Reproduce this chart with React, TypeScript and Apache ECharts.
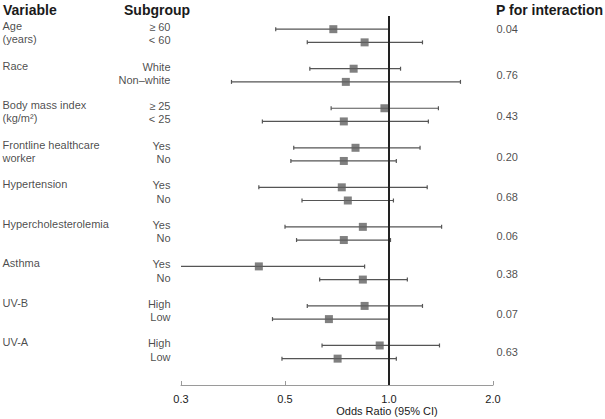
import React, { useEffect, useRef } from "react";
import * as echarts from "echarts";

const variables = [
  "Age\n(years)",
  "Race",
  "Body mass index\n(kg/m²)",
  "Frontline healthcare\nworker",
  "Hypertension",
  "Hypercholesterolemia",
  "Asthma",
  "UV-B",
  "UV-A",
];
const subgroups = [
  ["≥ 60", "< 60"],
  ["White", "Non–white"],
  ["≥ 25", "< 25"],
  ["Yes", "No"],
  ["Yes", "No"],
  ["Yes", "No"],
  ["Yes", "No"],
  ["High", "Low"],
  ["High", "Low"],
];
const oddsRatio = [
  [0.69, 0.85], [0.79, 0.75], [0.97, 0.74], [0.8, 0.74], [0.73, 0.76],
  [0.84, 0.74], [0.42, 0.84], [0.85, 0.67], [0.94, 0.71],
];
const ciLower = [
  [0.47, 0.58], [0.59, 0.35], [0.68, 0.43], [0.53, 0.52], [0.42, 0.56],
  [0.5, 0.54], [0.24, 0.63], [0.58, 0.46], [0.64, 0.49],
];
const ciUpper = [
  [1.0, 1.25], [1.08, 1.61], [1.39, 1.3], [1.23, 1.05], [1.29, 1.03],
  [1.42, 1.01], [0.85, 1.13], [1.25, 1.0], [1.4, 1.05],
];
const pInteraction = ["0.04", "0.76", "0.43", "0.20", "0.68", "0.06", "0.38", "0.07", "0.63"];
const xTicks = [0.25, 0.5, 1, 2];
const xTickLabels = ["0.3", "0.5", "1.0", "2.0"];

// layout (row units): p-value text rows
const pRowY = [0, 3.46, 6.6, 9.7, 12.77, 15.67, 18.6, 21.6, 24.47];

const FONT = "'Liberation Sans', Arial, Helvetica, sans-serif";

export default function App() {
  const ref = useRef<HTMLDivElement>(null);
  useEffect(() => {
    const chart = echarts.init(ref.current!, null, { renderer: "svg" });
    const rowOf = (g: number, k: number) => g * 3 + k;

    const ciData: any[] = [];
    const pointData: any[] = [];
    const subData: any[] = [];
    const varData: any[] = [];
    const pData: any[] = [];
    variables.forEach((v, g) => {
      for (let k = 0; k < 2; k++) {
        const y = rowOf(g, k);
        ciData.push([ciLower[g][k], ciUpper[g][k], y]);
        pointData.push([oddsRatio[g][k], y]);
        subData.push({ value: [0.25, y], label: { formatter: subgroups[g][k] } });
      }
      varData.push({ value: [0.25, rowOf(g, 0)], label: { formatter: v } });
      pData.push({ value: [2, pRowY[g]], label: { formatter: pInteraction[g] } });
    });

    const textColor = "#1a1a1a";

    chart.setOption({
      animation: false,
      textStyle: { fontFamily: FONT },
      grid: { left: 181, right: 112, top: 16, bottom: 34, containLabel: false },
      xAxis: {
        type: "log",
        logBase: 2,
        min: 0.25,
        max: 2,
        interval: 1,
        position: "bottom",
        axisLine: { show: true, onZero: false, lineStyle: { color: "#9a9a9a", width: 1 } },
        axisTick: { show: true, inside: true, length: 4, lineStyle: { color: "#9a9a9a" } },
        splitLine: { show: false },
        minorTick: { show: false },
        axisLabel: {
          fontSize: 11,
          color: textColor,
          margin: 8,
          fontFamily: FONT,
          formatter: (val: number) => {
            const i = xTicks.findIndex((t) => Math.abs(t - val) < 1e-6);
            return i >= 0 ? xTickLabels[i] : "";
          },
        },
      },
      yAxis: {
        type: "value",
        inverse: true,
        min: -1,
        max: 27,
        show: false,
      },
      graphic: [
        { type: "text", left: 3, top: 3, style: { text: "Variable", font: `bold 14px ${FONT}`, fill: textColor } },
        { type: "text", left: 124, top: 3, style: { text: "Subgroup", font: `bold 14px ${FONT}`, fill: textColor } },
        { type: "text", left: 496, top: 3, style: { text: "P for interaction", font: `bold 14px ${FONT}`, fill: textColor } },
        {
          type: "text",
          x: 387,
          y: 405,
          style: { text: "Odds Ratio (95% CI)", font: `11px ${FONT}`, fill: textColor, textAlign: "center" },
        },
      ],
      series: [
        {
          type: "custom",
          clip: true,
          data: ciData,
          encode: { x: [0, 1], y: 2 },
          renderItem: (params: any, api: any) => {
            const y = api.value(2);
            const p1 = api.coord([api.value(0), y]);
            const p2 = api.coord([api.value(1), y]);
            const style = { stroke: "#555", lineWidth: 1.2 };
            const h = 2;
            return {
              type: "group",
              children: [
                { type: "line", shape: { x1: p1[0], y1: p1[1], x2: p2[0], y2: p2[1] }, style },
                { type: "line", shape: { x1: p1[0], y1: p1[1] - h, x2: p1[0], y2: p1[1] + h }, style },
                { type: "line", shape: { x1: p2[0], y1: p2[1] - h, x2: p2[0], y2: p2[1] + h }, style },
              ],
            };
          },
          z: 2,
        },
        {
          type: "scatter",
          data: pointData,
          symbol: "rect",
          symbolSize: 8,
          itemStyle: { color: "#606060" },
          z: 4,
          markLine: {
            silent: true,
            symbol: "none",
            label: { show: false },
            lineStyle: { color: "#222", width: 2, type: "solid" },
            data: [{ xAxis: 1 }],
          },
        },
        {
          type: "scatter",
          data: subData,
          symbolSize: 1,
          itemStyle: { color: "transparent" },
          label: {
            show: true,
            position: "left",
            distance: 10,
            offset: [0, -2],
            align: "right",
            fontSize: 11,
            color: textColor,
            fontFamily: FONT,
          },
          silent: true,
        },
        {
          type: "scatter",
          data: varData,
          symbolSize: 1,
          itemStyle: { color: "transparent" },
          label: {
            show: true,
            position: [-178, -9],
            align: "left",
            verticalAlign: "top",
            lineHeight: 13,
            fontSize: 11,
            color: textColor,
            fontFamily: FONT,
          },
          silent: true,
        },
        {
          type: "scatter",
          data: pData,
          symbolSize: 1,
          itemStyle: { color: "transparent" },
          label: {
            show: true,
            position: "right",
            distance: 3,
            align: "left",
            fontSize: 11,
            color: textColor,
            fontFamily: FONT,
          },
          silent: true,
        },
      ],
    });
    return () => chart.dispose();
  }, []);
  return (
    <div
      ref={ref}
      style={{ position: "fixed", left: 0, top: 0, width: 605, height: 419, background: "#fff" }}
    />
  );
}
